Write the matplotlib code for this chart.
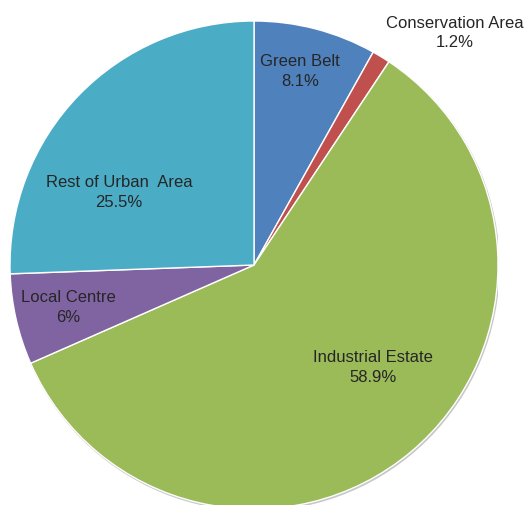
import numpy as np
import matplotlib
matplotlib.use("Agg")
import matplotlib.pyplot as plt
from matplotlib.patches import Circle

plt.rcParams['font.family'] = ['Liberation Sans', 'DejaVu Sans']

categories = ["Green Belt", "Conservation Area", "Industrial Estate", "Local Centre", "Rest of Urban  Area"]
shares = [8.1, 1.2, 58.9, 6.0, 25.5]
pct_labels = ["8.1%", "1.2%", "58.9%", "6%", "25.5%"]
colors = ["#4F81BD", "#C0504D", "#9BBB59", "#8064A2", "#4BACC6"]

# label placement: (angle in degrees, distance as fraction of radius)
label_pos = [(76.7, 0.82), (49.3, 1.26), (-40.6, 0.64), (-167.3, 0.78), (151.4, 0.63)]

W, H = 528, 506
fig = plt.figure(figsize=(W / 100, H / 100), dpi=100)
# pie spans x 10..498, y 22..510 px (from top)
ax = fig.add_axes([10 / W, (H - 510) / H, 488 / W, 488 / H])

# faint shadow ring
ax.add_patch(Circle((0.004, -0.006), 1.0, color="#c8c8c8", zorder=0))

wedges, _ = ax.pie(shares, colors=colors, startangle=90, counterclock=False,
                   wedgeprops=dict(edgecolor="white", linewidth=1.0))

for name, pct, (ang, dist) in zip(categories, pct_labels, label_pos):
    a = np.deg2rad(ang)
    ax.text(dist * np.cos(a), dist * np.sin(a), name + "\n" + pct,
            ha="center", va="center", fontsize=12, color="#262626",
            linespacing=1.4)

ax.set_xlim(-1, 1)
ax.set_ylim(-1, 1)
ax.set_aspect("auto")
ax.axis("off")
for t in ax.texts:
    t.set_clip_on(False)

fig.savefig("out.png", dpi=100)
